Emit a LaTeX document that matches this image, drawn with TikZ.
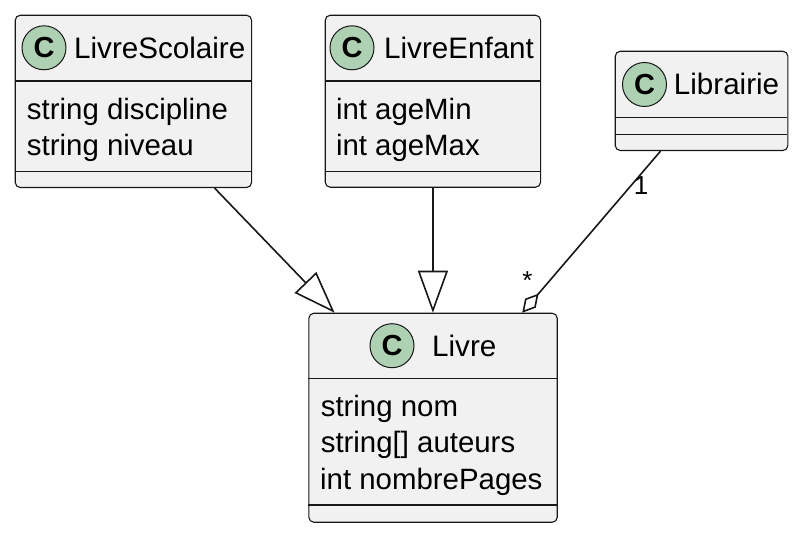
\documentclass[tikz,border=0pt]{standalone}
\usepackage{fontspec}
\setmainfont{Liberation Sans}
\usetikzlibrary{arrows.meta,calc}
\definecolor{boxfill}{HTML}{F1F1F1}
\definecolor{ink}{HTML}{181818}
\definecolor{cfill}{HTML}{ADD1B2}
\begin{document}
\begin{tikzpicture}[x=1pt,y=-1pt,
  classbox/.style={draw=ink, fill=boxfill, rounded corners=5pt, line width=1.1pt, inner sep=0pt, anchor=north west},
  sepline/.style={draw=ink, line width=1.1pt},
  cicon/.style={circle, draw=ink, fill=cfill, line width=1pt, minimum size=44pt, inner sep=0pt, font=\fontsize{29}{29}\selectfont\bfseries},
  ctitle/.style={anchor=base west, inner sep=0pt, font=\fontsize{29.6}{29.6}\selectfont},
  attr/.style={anchor=base west, inner sep=0pt, font=\fontsize{29.4}{29.4}\selectfont},
  conn/.style={draw=ink, line width=1.6pt},
  mult/.style={anchor=base, inner sep=0pt, font=\fontsize{26}{26}\selectfont}]
\useasboundingbox (0,0) rectangle (800,534);
\fill[white] (0,0) rectangle (800,534);

% LivreScolaire
\node[classbox, minimum width=236.3pt, minimum height=172.3pt] (ls) at (14.7,14.7) {};
\draw[sepline] (14.7,81) -- (251,81);
\draw[sepline] (14.7,171.3) -- (251,171.3);
\node[cicon] (lsc) at (44,47.8) {C};
\node[ctitle] (lst) at (74,58.3) {LivreScolaire};
\node[attr] (lsa1) at (26.8,119.3) {string discipline};
\node[attr] (lsa2) at (26.8,155.8) {string niveau};

% LivreEnfant
\node[classbox, minimum width=215.3pt, minimum height=172pt] (le) at (324.7,14.7) {};
\draw[sepline] (324.7,81) -- (540,81);
\draw[sepline] (324.7,171.3) -- (540,171.3);
\node[cicon] (lec) at (352,47.8) {C};
\node[ctitle] (let) at (384,58.3) {LivreEnfant};
\node[attr] (lea1) at (335.8,119.3) {int ageMin};
\node[attr] (lea2) at (335.8,155.8) {int ageMax};

% Librairie
\node[classbox, minimum width=172.6pt, minimum height=99.3pt] (lib) at (614.7,50.7) {};
\draw[sepline] (614.7,117.7) -- (787.3,117.7);
\draw[sepline] (614.7,134.3) -- (787.3,134.3);
\node[cicon] (libc) at (644.5,84.5) {C};
\node[ctitle] (libt) at (673.7,95) {Librairie};

% Livre
\node[classbox, minimum width=248.4pt, minimum height=209pt] (livre) at (308.3,312.7) {};
\draw[sepline] (308.3,378.3) -- (556.7,378.3);
\draw[sepline] (308.3,505) -- (556.7,505);
\node[cicon] (livc) at (392,345.7) {C};
\node[ctitle] (livt) at (432,356.5) {Livre};
\node[attr] (liva1) at (320.6,416.3) {string nom};
\node[attr] (liva2) at (320.6,452.9) {string[] auteurs};
\node[attr] (liva3) at (320.0,489.5) {int nombrePages};

% connectors
\draw[conn, -{Triangle[open,length=42pt,width=30pt]}] ([xshift=81.2pt]ls.south) -- ([xshift=-98.5pt]livre.north);
\draw[conn, -{Triangle[open,length=42pt,width=30pt]}] (le.south) -- (le.south |- livre.north);
\draw[conn, {Diamond[open,length=25pt,width=14pt]}-] ([xshift=89.2pt]livre.north) -- ([xshift=-41pt]lib.south);
\node[mult] (m1) at (641,195) {1};
\node[mult] (m2) at (527.5,290) {*};
\end{tikzpicture}
\end{document}
